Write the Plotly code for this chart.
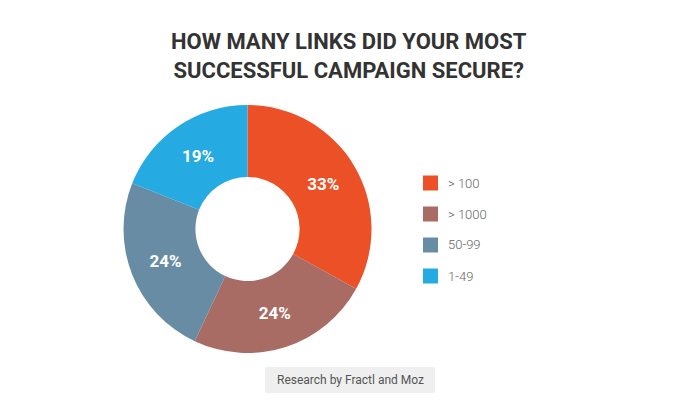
"""Donut chart: links secured by most successful campaign"""
import plotly.graph_objects as go

LABELS = ['> 100', '> 1000', '50-99', '1-49']
VALUES = [33, 24, 24, 19]
COLOURS = ['#EB5027', '#A86C65', '#698CA5', '#25AAE1']

TITLE = 'HOW MANY LINKS DID YOUR MOST<br>SUCCESSFUL CAMPAIGN SECURE?'
SOURCE = 'Research by Fractl and Moz'

W, H = 700, 408
OFF = 8  # page body margin shifts the plot by this much
BOLD_FONT = 'Roboto, sans-serif'


def px(x):
    """x position in page pixels -> paper coords"""
    return (x - OFF) / W


def py(y):
    """y position in page pixels (from top) -> paper coords"""
    return (H - (y - OFF)) / H


fig = go.Figure()
fig.add_trace(go.Pie(
    labels=LABELS,
    values=VALUES,
    hole=0.42,
    sort=False,
    direction='clockwise',
    rotation=0,
    marker={'colors': COLOURS, 'line': {'width': 0}},
    texttemplate='%{percent:.0%}',
    textposition='inside',
    insidetextorientation='horizontal',
    textfont={'family': BOLD_FONT, 'size': 17, 'color': 'white', 'weight': 'bold'},
    domain={'x': [px(123), px(372)], 'y': [py(353), py(105)]},
    showlegend=False,
    hoverinfo='label+percent',
))

# hand-made legend, one row per category
for i, (label, colour) in enumerate(zip(LABELS, COLOURS)):
    yc = 183 + i * 31
    fig.add_shape(type='rect', xref='paper', yref='paper',
                  x0=px(423), x1=px(438), y0=py(yc + 7.5), y1=py(yc - 7.5),
                  fillcolor=colour, line={'width': 0})
    fig.add_annotation(x=px(446), y=py(yc), xref='paper', yref='paper',
                       text=label, showarrow=False, xanchor='left', yanchor='middle',
                       font={'family': 'Roboto, sans-serif', 'size': 13, 'color': '#666666',
                             'weight': 300})

# source box at the bottom
fig.add_shape(type='rect', xref='paper', yref='paper',
              x0=px(265), x1=px(435), y0=py(393), y1=py(367),
              fillcolor='#EFEFEF', line={'width': 0})
fig.add_annotation(x=px(350), y=py(380), xref='paper', yref='paper',
                   text=SOURCE, showarrow=False, xanchor='center', yanchor='middle',
                   font={'family': 'Roboto, sans-serif', 'size': 12, 'color': '#555555'})

fig.add_annotation(x=px(349), y=py(56), xref='paper', yref='paper',
                   text=TITLE, showarrow=False, xanchor='center', yanchor='middle',
                   font={'family': BOLD_FONT, 'size': 22, 'color': '#333333', 'weight': 'bold'})

fig.update_layout(width=W, height=H, margin={'l': 0, 'r': 0, 't': 0, 'b': 0},
                  paper_bgcolor='white', plot_bgcolor='white')

fig.write_html('out.html')
